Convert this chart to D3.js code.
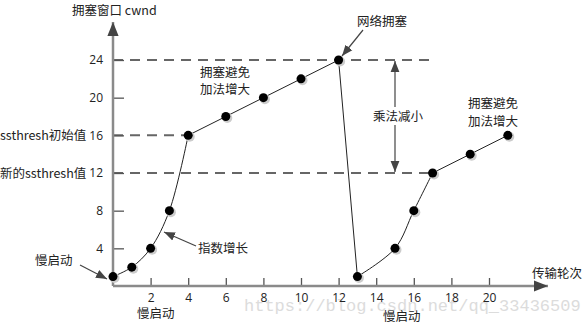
<!DOCTYPE html>
<html>
<head>
<meta charset="utf-8">
<script src="https://cdn.jsdelivr.net/npm/d3@7"></script>
<style>
  body { margin: 0; background: #fff; }
  svg text { font-family: "Noto Sans CJK SC", "Noto Sans", sans-serif; fill: #222; }
</style>
</head>
<body>
<div id="chart"></div>
<script>
// transmission rounds and congestion window values
const rounds = [0, 1, 2, 3, 4, 6, 8, 10, 12, 13, 15, 16, 17, 19, 21];
const cwnd = [1, 2, 4, 8, 16, 18, 20, 22, 24, 1, 4, 8, 12, 14, 16];
// index ranges of each phase: [start, end, curved?]
const segments = [[0, 4, true], [4, 8, false], [8, 9, false], [9, 12, true], [12, 14, false]];
const xTicks = [2, 4, 6, 8, 10, 12, 14, 16, 18, 20];
const yTicks = [4, 8, 12, 16, 20, 24];
const ssthreshOld = 16, ssthreshNew = 12, peak = 24;

const width = 585, height = 325;
const svg = d3.select("#chart").append("svg")
    .attr("width", width).attr("height", height);

const x = d3.scaleLinear().domain([0, 20]).range([113, 489]);
const y = d3.scaleLinear().domain([0, 24]).range([286, 60]);

const defs = svg.append("defs");
function marker(id, color, size) {
    defs.append("marker").attr("id", id)
        .attr("viewBox", "0 0 10 10").attr("refX", 10).attr("refY", 5)
        .attr("markerWidth", size).attr("markerHeight", size)
        .attr("markerUnits", "userSpaceOnUse")
        .attr("orient", "auto")
        .append("path").attr("d", "M0,1 L10,5 L0,9 Z").attr("fill", color);
}
marker("axisArrow", "#444", 14);
marker("arrow", "#444", 11);

// watermark
svg.append("text")
    .attr("x", 244).attr("y", 311)
    .style("font-family", "'Liberation Mono', monospace")
    .style("font-size", "17px")
    .style("fill", "#dcdcdc")
    .text("https://blog.csdn.net/qq_33436509");

// dashed reference lines
const dashes = [[ssthreshOld, 4], [ssthreshNew, 17], [peak, 17]];
svg.selectAll(".dash").data(dashes).enter().append("line")
    .attr("x1", x(0)).attr("x2", d => x(d[1]))
    .attr("y1", d => y(d[0])).attr("y2", d => y(d[0]))
    .attr("stroke", "#666").attr("stroke-width", 2)
    .attr("stroke-dasharray", "10,7");

// axes
const xAxis = svg.append("g").attr("transform", `translate(0,${y(0)})`)
    .call(d3.axisBottom(x).tickValues(xTicks).tickSize(-8).tickPadding(5));
const yAxis = svg.append("g").attr("transform", `translate(${x(0)},0)`)
    .call(d3.axisLeft(y).tickValues(yTicks).tickSize(-11).tickPadding(10));
[xAxis, yAxis].forEach(g => {
    g.select(".domain").remove();
    g.selectAll(".tick line").attr("stroke", "#555").attr("stroke-width", 1.3);
    g.selectAll(".tick text").style("font-size", "12px").attr("fill", "#222")
        .style("font-family", "'Open Sans', 'Noto Sans', sans-serif");
});
xAxis.selectAll(".tick text").attr("dy", "0.9em");

svg.append("line").attr("x1", x(0)).attr("y1", y(0)).attr("x2", 548).attr("y2", y(0))
    .attr("stroke", "#8a8a8a").attr("stroke-width", 2.5).attr("marker-end", "url(#axisArrow)");
svg.append("line").attr("x1", x(0)).attr("y1", y(0)).attr("x2", x(0)).attr("y2", 22)
    .attr("stroke", "#8a8a8a").attr("stroke-width", 2.5).attr("marker-end", "url(#axisArrow)");

// cwnd curve
const pts = rounds.map((r, i) => [r, cwnd[i]]);
segments.forEach(([s, e, curved]) => {
    const line = d3.line().x(d => x(d[0])).y(d => y(d[1]))
        .curve(curved ? d3.curveCatmullRom.alpha(0.5) : d3.curveLinear);
    svg.append("path").datum(pts.slice(s, e + 1))
        .attr("d", line).attr("fill", "none")
        .attr("stroke", "#222").attr("stroke-width", 1);
});

// points with a soft shadow
svg.selectAll(".shadow").data(pts).enter().append("circle")
    .attr("cx", d => x(d[0]) + 1.5).attr("cy", d => y(d[1]) + 1.5).attr("r", 5)
    .attr("fill", "#ccc");
svg.selectAll(".pt").data(pts).enter().append("circle")
    .attr("cx", d => x(d[0])).attr("cy", d => y(d[1])).attr("r", 4.5)
    .attr("fill", "#000");

// multiplicative decrease double arrow
const mx = x(15);
svg.append("line").attr("x1", mx).attr("x2", mx)
    .attr("y1", y(18)).attr("y2", y(peak) + 1)
    .attr("stroke", "#444").attr("stroke-width", 1.2).attr("marker-end", "url(#arrow)");
svg.append("line").attr("x1", mx).attr("x2", mx)
    .attr("y1", y(18)).attr("y2", y(ssthreshNew) - 1)
    .attr("stroke", "#444").attr("stroke-width", 1.2).attr("marker-end", "url(#arrow)");
svg.append("rect").attr("x", 371).attr("y", 107).attr("width", 54).attr("height", 18).attr("fill", "#fff");

// annotation arrows
const arrows = [[363, 30, 342, 56], [196, 246, 164, 232], [80, 265, 107, 279]];
svg.selectAll(".ann").data(arrows).enter().append("line")
    .attr("x1", d => d[0]).attr("y1", d => d[1]).attr("x2", d => d[2]).attr("y2", d => d[3])
    .attr("stroke", "#444").attr("stroke-width", 1.2).attr("marker-end", "url(#arrow)");

// text labels
const labels = [
    ["拥塞窗口 cwnd", 72, 15, "start"],
    ["ssthresh初始值", 0, 140, "start"],
    ["新的ssthresh值", 0, 178, "start"],
    ["网络拥塞", 357, 26, "start"],
    ["拥塞避免", 200, 77, "start"],
    ["加法增大", 200, 94, "start"],
    ["乘法减小", 373, 121, "start"],
    ["拥塞避免", 468, 108, "start"],
    ["加法增大", 468, 126, "start"],
    ["指数增长", 198, 253, "start"],
    ["慢启动", 35, 265, "start"],
    ["慢启动", 137, 318, "start"],
    ["慢启动", 383, 321, "start"],
    ["传输轮次", 532, 278, "start"]
];
svg.selectAll(".lbl").data(labels).enter().append("text")
    .attr("x", d => d[1]).attr("y", d => d[2])
    .attr("text-anchor", d => d[3])
    .style("font-size", "12.5px")
    .text(d => d[0]);
</script>
</body>
</html>
